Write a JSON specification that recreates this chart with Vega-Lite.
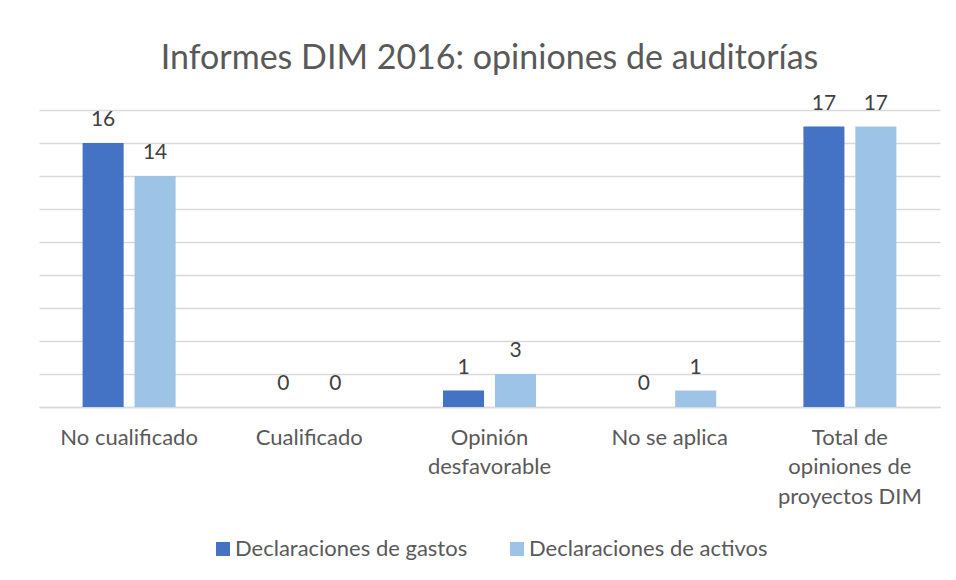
{
  "$schema": "https://vega.github.io/schema/vega-lite/v6.json",
  "width": 901,
  "height": 297,
  "autosize": {"type": "none"},
  "padding": {"left": 39, "top": 110, "right": 16, "bottom": 173},
  "background": "white",
  "title": {
    "text": "Informes DIM 2016: opiniones de auditorías",
    "font": "Lato",
    "fontSize": 34,
    "fontWeight": "normal",
    "color": "#595959",
    "anchor": "middle",
    "offset": 17
  },
  "data": {
    "values": [
      {"categoria": "No cualificado", "serie": "Declaraciones de gastos", "valor": 16, "etiqueta": 16},
      {"categoria": "No cualificado", "serie": "Declaraciones de activos", "valor": 14, "etiqueta": 14},
      {"categoria": "Cualificado", "serie": "Declaraciones de gastos", "valor": 0, "etiqueta": 0},
      {"categoria": "Cualificado", "serie": "Declaraciones de activos", "valor": 0, "etiqueta": 0},
      {"categoria": "Opinión desfavorable", "serie": "Declaraciones de gastos", "valor": 1, "etiqueta": 1},
      {"categoria": "Opinión desfavorable", "serie": "Declaraciones de activos", "valor": 2, "etiqueta": 3},
      {"categoria": "No se aplica", "serie": "Declaraciones de gastos", "valor": 0, "etiqueta": 0},
      {"categoria": "No se aplica", "serie": "Declaraciones de activos", "valor": 1, "etiqueta": 1},
      {"categoria": "Total de opiniones de proyectos DIM", "serie": "Declaraciones de gastos", "valor": 17, "etiqueta": 17},
      {"categoria": "Total de opiniones de proyectos DIM", "serie": "Declaraciones de activos", "valor": 17, "etiqueta": 17}
    ]
  },
  "encoding": {
    "x": {
      "field": "categoria",
      "type": "nominal",
      "sort": null,
      "scale": {"paddingInner": 0.484, "paddingOuter": 0.242},
      "axis": {
        "title": null,
        "labelAngle": 0,
        "labelFont": "Lato",
        "labelFontSize": 22,
        "labelColor": "#595959",
        "labelLineHeight": 29.5,
        "labelPadding": 20,
        "labelLimit": 300,
        "ticks": false,
        "domainColor": "#D9D9D9",
        "domainWidth": 1.5,
        "grid": false,
        "labelExpr": "datum.value == 'Opinión desfavorable' ? ['Opinión', 'desfavorable'] : datum.value == 'Total de opiniones de proyectos DIM' ? ['Total de', 'opiniones de', 'proyectos DIM'] : datum.value"
      }
    },
    "xOffset": {
      "field": "serie",
      "type": "nominal",
      "sort": ["Declaraciones de gastos", "Declaraciones de activos"],
      "scale": {"paddingInner": 0.21}
    },
    "y": {
      "field": "valor",
      "type": "quantitative",
      "scale": {"domain": [0, 18], "nice": false},
      "axis": {
        "title": null,
        "labels": false,
        "ticks": false,
        "domain": false,
        "values": [0, 2, 4, 6, 8, 10, 12, 14, 16, 18],
        "gridColor": "#D9D9D9",
        "gridWidth": 1.5
      }
    }
  },
  "layer": [
    {
      "mark": {"type": "bar"},
      "encoding": {
        "color": {
          "field": "serie",
          "type": "nominal",
          "sort": ["Declaraciones de gastos", "Declaraciones de activos"],
          "scale": {
            "domain": ["Declaraciones de gastos", "Declaraciones de activos"],
            "range": ["#4472C4", "#9DC3E6"]
          },
          "legend": {
            "title": null,
            "orient": "none",
            "legendX": 173,
            "legendY": 428,
            "direction": "horizontal",
            "symbolType": "square",
            "symbolSize": 196,
            "symbolStrokeWidth": 0,
            "labelFont": "Lato",
            "labelFontSize": 22,
            "labelColor": "#595959",
            "labelLimit": 400,
            "columnPadding": 38,
            "labelOffset": 1
          }
        }
      }
    },
    {
      "mark": {
        "type": "text",
        "baseline": "alphabetic",
        "dy": -17,
        "font": "Lato",
        "fontSize": 21,
        "color": "#404040"
      },
      "encoding": {
        "text": {"field": "etiqueta", "type": "quantitative"}
      }
    }
  ],
  "config": {
    "view": {"stroke": null}
  }
}
